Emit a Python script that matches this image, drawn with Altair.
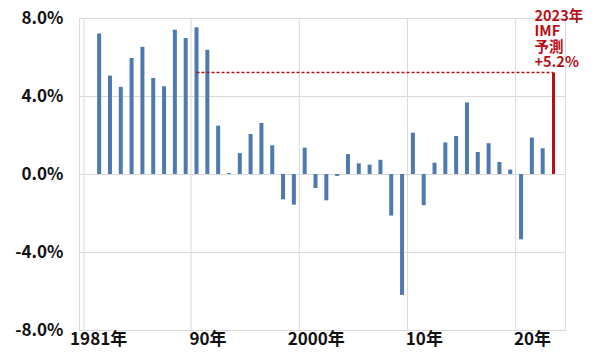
import altair as alt
import pandas as pd

years = list(range(1981, 2023))
values = [7.2, 5.05, 4.47, 5.95, 6.52, 4.93, 4.5, 7.4, 6.98, 7.53,
          6.37, 2.48, 0.05, 1.07, 2.05, 2.62, 1.47, -1.3, -1.57, 1.35,
          -0.72, -1.35, -0.1, 1.02, 0.55, 0.48, 0.73, -2.13, -6.2, 2.12,
          -1.6, 0.58, 1.62, 1.95, 3.67, 1.13, 1.58, 0.62, 0.23, -3.35,
          1.87, 1.32]
forecast_year = 2023
forecast_value = 5.2
forecast_lines = ["2023年", "IMF", "予測", "+5.2%"]
dash_start_year = 1990
grid_years = [1979.6, 1989.5, 1999.5, 2009.5, 2019.5]
label_years = [1981, 1990, 2000, 2010, 2020]
y_ticks = [-8, -4, 0, 4, 8]

FONT = "Noto Sans CJK JP"
BLUE = "#4E7AB2"
RED = "#B80F16"
TOP = 10
H = 312

df = pd.DataFrame({"year": years, "value": values})
fc = pd.DataFrame({"year": [forecast_year], "value": [forecast_value]})
dash = pd.DataFrame({"x": [dash_start_year], "x2": [forecast_year], "y": [forecast_value]})
ann = pd.DataFrame({"year": [forecast_year], "value": [forecast_value], "txt": [forecast_lines]})
grid = pd.DataFrame({"g": grid_years})

xscale = alt.Scale(domain=[1979.6, 2023.6], nice=False, zero=False)
yscale = alt.Scale(domain=[-8, 8], nice=False)

label_expr = "datum.value == 1981 ? '1981年' : (datum.value == 2000 ? '2000年' : slice(toString(datum.value), 2) + '年')"

xaxis = alt.Axis(values=label_years, labelExpr=label_expr, grid=False, ticks=False, domain=False,
                 labelFont=FONT, labelFontSize=17, labelFontWeight="bold", labelColor="#111111",
                 labelPadding=1, labelBaseline="top", title=None,
                 labelOffset={"condition": {"test": "datum.value < 1985", "value": -1}, "value": 11})
yaxis = alt.Axis(values=y_ticks,
                 labelExpr="replace(format(datum.value, '.1f'), '\u2212', '-') + '%'",
                 grid=True, gridColor="#DADADA", gridWidth=1, ticks=False, domain=False,
                 labelFont=FONT, labelFontSize=17, labelFontWeight="bold", labelColor="#111111",
                 labelPadding=16, title=None)

vgrid = alt.Chart(grid).mark_rule(color="#DADADA", strokeWidth=1).encode(
    x=alt.X("g:Q", scale=xscale, axis=xaxis),
    y=alt.value(0), y2=alt.value(H))

bars = alt.Chart(df).mark_bar(color=BLUE, size=4).encode(
    x=alt.X("year:Q", scale=xscale),
    y=alt.Y("value:Q", scale=yscale, axis=yaxis))

fbar = alt.Chart(fc).mark_bar(color=RED, size=3).encode(
    x=alt.X("year:Q", scale=xscale),
    y=alt.Y("value:Q", scale=yscale))

dline = alt.Chart(dash).mark_rule(color=RED, strokeWidth=1.5, strokeDash=[3, 2]).encode(
    x=alt.X("x:Q", scale=xscale), x2="x2:Q",
    y=alt.Y("y:Q", scale=yscale))

text = alt.Chart(ann).mark_text(align="left", baseline="top", font=FONT, fontSize=14.5,
                                fontWeight="bold", color=RED, lineHeight=15.5, dx=-19, dy=-63).encode(
    x=alt.X("year:Q", scale=xscale),
    y=alt.Y("value:Q", scale=yscale),
    text="txt")

chart = alt.layer(vgrid, bars, fbar, dline, text).properties(
    width=486, height=H,
    autosize=alt.AutoSizeParams(type="none"),
    padding={"left": 71, "top": TOP, "right": 27, "bottom": 345 - TOP - H},
).configure_view(stroke=None).configure(background="white")

chart.save("out.html", embed_options={"renderer": "svg", "actions": False})
